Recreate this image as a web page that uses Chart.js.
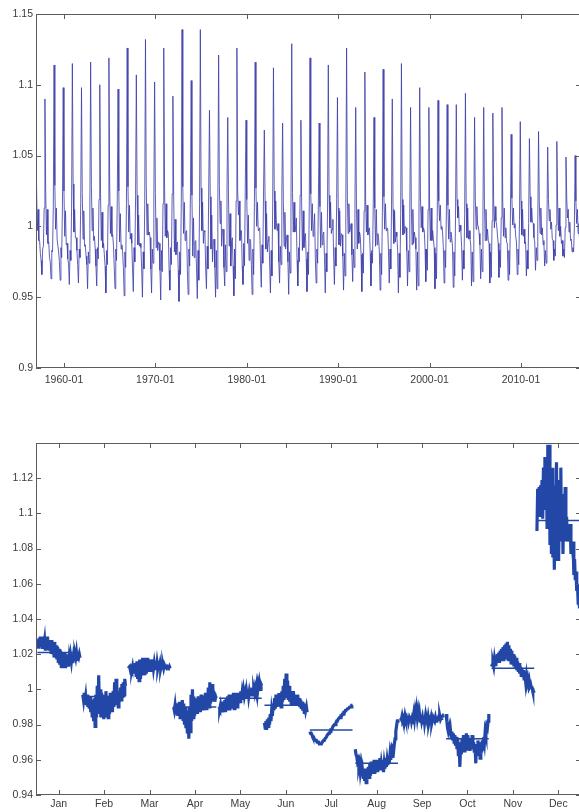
<!DOCTYPE html>
<html lang="en">
<head>
  <meta charset="UTF-8" />
  <title>Seasonal factors</title>
  <script src="https://cdn.jsdelivr.net/npm/chart.js"></script>
  <style>
    body {
      margin: 0;
      background: #ffffff;
      overflow: hidden;
      width: 579px;
      height: 812px;
      position: relative;
    }

    canvas {
      position: absolute;
      left: 0;
    }

    #topChart { top: 0; }
    #monthChart { top: 400px; }
  </style>
</head>
<body>
  <canvas id="topChart" width="590" height="400"></canvas>
  <canvas id="monthChart" width="590" height="412"></canvas>

  <script>
    // years covered by the series
    const years = [
      1957, 1958, 1959, 1960, 1961, 1962, 1963, 1964, 1965, 1966,
      1967, 1968, 1969, 1970, 1971, 1972, 1973, 1974, 1975, 1976,
      1977, 1978, 1979, 1980, 1981, 1982, 1983, 1984, 1985, 1986,
      1987, 1988, 1989, 1990, 1991, 1992, 1993, 1994, 1995, 1996,
      1997, 1998, 1999, 2000, 2001, 2002, 2003, 2004, 2005, 2006,
      2007, 2008, 2009, 2010, 2011, 2012, 2013, 2014, 2015, 2016
    ];

    const monthNames = ["Jan", "Feb", "Mar", "Apr", "May", "Jun",
                        "Jul", "Aug", "Sep", "Oct", "Nov", "Dec"];

    // december 1956, just at the left edge of the top panel
    const dec1956 = 1.098;

    // seasonal factor of each month, one value per year
    const janVals = [
      1.028, 1.024, 1.029, 1.025, 1.030, 1.024, 1.029, 1.023, 1.030, 1.025,
      1.028, 1.022, 1.029, 1.024, 1.030, 1.023, 1.028, 1.022, 1.027, 1.021,
      1.028, 1.020, 1.026, 1.019, 1.027, 1.018, 1.025, 1.017, 1.024, 1.015,
      1.023, 1.014, 1.022, 1.013, 1.021, 1.012, 1.020, 1.013, 1.021, 1.012,
      1.019, 1.014, 1.020, 1.013, 1.018, 1.015, 1.019, 1.016, 1.020, 1.015,
      1.019, 1.017, 1.020, 1.018, 1.021, 1.017, 1.019, 1.018, 1.020, 1.018
    ];
    const febVals = [
      0.997, 0.994, 0.998, 0.993, 0.996, 0.991, 0.997, 0.990, 0.995, 0.989,
      0.996, 0.987, 0.994, 0.985, 0.993, 0.982, 0.995, 0.979, 0.997, 0.984,
      1.002, 0.986, 1.008, 0.988, 1.000, 0.984, 0.998, 0.986, 0.996, 0.983,
      0.997, 0.985, 0.999, 0.987, 0.995, 0.984, 0.996, 0.986, 0.998, 0.988,
      0.994, 0.987, 0.999, 0.990, 1.004, 0.991, 1.006, 0.992, 0.998, 0.990,
      0.999, 0.993, 1.001, 0.994, 1.003, 0.995, 1.004, 0.997, 1.006, 1.002
    ];
    const marVals = [
      1.012, 1.012, 1.013, 1.011, 1.012, 1.011, 1.013, 1.010, 1.014, 1.009,
      1.015, 1.008, 1.016, 1.006, 1.016, 1.005, 1.017, 1.006, 1.017, 1.008,
      1.018, 1.009, 1.018, 1.008, 1.017, 1.009, 1.018, 1.010, 1.017, 1.011,
      1.016, 1.010, 1.017, 1.011, 1.016, 1.012, 1.015, 1.012, 1.016, 1.011,
      1.015, 1.012, 1.014, 1.013, 1.015, 1.012, 1.014, 1.013, 1.014, 1.012,
      1.014, 1.013, 1.013, 1.012, 1.013, 1.013, 1.012, 1.013, 1.012, 1.012
    ];
    const aprVals = [
      0.990, 0.988, 0.991, 0.987, 0.992, 0.986, 0.990, 0.985, 0.993, 0.984,
      0.991, 0.986, 0.994, 0.983, 0.992, 0.980, 0.990, 0.978, 0.988, 0.975,
      0.986, 0.972, 0.990, 0.976, 0.997, 0.982, 1.000, 0.984, 0.996, 0.985,
      0.993, 0.987, 0.995, 0.986, 0.996, 0.988, 0.994, 0.987, 0.997, 0.989,
      0.995, 0.988, 0.996, 0.990, 0.998, 0.989, 0.996, 0.991, 1.001, 0.990,
      1.004, 0.992, 0.999, 0.993, 1.003, 0.994, 0.998, 0.993, 0.996, 0.995
    ];
    const mayVals = [
      0.990, 0.989, 0.991, 0.988, 0.992, 0.987, 0.993, 0.988, 0.994, 0.987,
      0.995, 0.988, 0.996, 0.989, 0.997, 0.988, 0.996, 0.989, 0.997, 0.990,
      0.998, 0.989, 0.997, 0.991, 0.998, 0.990, 0.997, 0.992, 0.998, 0.993,
      0.999, 0.994, 0.998, 0.995, 0.999, 0.996, 0.998, 0.995, 0.999, 0.996,
      1.000, 0.996, 0.999, 0.997, 1.000, 0.996, 1.001, 0.997, 1.000, 0.998,
      1.001, 0.999, 1.002, 0.998, 1.002, 0.999, 1.003, 1.000, 1.003, 1.002
    ];
    const junVals = [
      0.981, 0.978, 0.982, 0.977, 0.983, 0.979, 0.984, 0.980, 0.986, 0.982,
      0.988, 0.985, 0.992, 0.988, 0.995, 0.989, 0.997, 0.990, 0.996, 0.991,
      0.998, 0.992, 0.997, 0.990, 0.999, 0.993, 1.002, 0.994, 1.006, 0.995,
      1.009, 0.996, 1.005, 0.994, 1.002, 0.993, 0.999, 0.992, 0.998, 0.993,
      0.999, 0.992, 0.997, 0.991, 0.996, 0.992, 0.997, 0.991, 0.995, 0.990,
      0.994, 0.989, 0.993, 0.988, 0.992, 0.987, 0.991, 0.988, 0.990, 0.987
    ];
    const julVals = [
      0.976, 0.975, 0.975, 0.974, 0.973, 0.973, 0.972, 0.972, 0.971, 0.971,
      0.970, 0.970, 0.970, 0.969, 0.969, 0.969, 0.969, 0.970, 0.970, 0.971,
      0.971, 0.972, 0.972, 0.973, 0.974, 0.974, 0.975, 0.975, 0.976, 0.977,
      0.977, 0.978, 0.979, 0.979, 0.980, 0.980, 0.981, 0.982, 0.982, 0.983,
      0.983, 0.984, 0.984, 0.985, 0.985, 0.986, 0.986, 0.987, 0.987, 0.988,
      0.988, 0.988, 0.989, 0.989, 0.989, 0.990, 0.990, 0.990, 0.991, 0.991
    ];
    const augVals = [
      0.966, 0.963, 0.962, 0.959, 0.960, 0.956, 0.958, 0.953, 0.956, 0.951,
      0.954, 0.950, 0.953, 0.948, 0.955, 0.947, 0.952, 0.949, 0.956, 0.950,
      0.958, 0.951, 0.959, 0.952, 0.957, 0.953, 0.960, 0.952, 0.958, 0.954,
      0.960, 0.953, 0.959, 0.955, 0.961, 0.954, 0.958, 0.955, 0.960, 0.953,
      0.958, 0.955, 0.961, 0.956, 0.960, 0.957, 0.962, 0.958, 0.963, 0.960,
      0.964, 0.962, 0.966, 0.965, 0.969, 0.972, 0.976, 0.979, 0.982, 0.983
    ];
    const sepVals = [
      0.984, 0.983, 0.985, 0.983, 0.984, 0.982, 0.985, 0.983, 0.984, 0.982,
      0.985, 0.982, 0.984, 0.983, 0.985, 0.982, 0.984, 0.983, 0.986, 0.983,
      0.987, 0.984, 0.988, 0.984, 0.987, 0.983, 0.986, 0.982, 0.985, 0.982,
      0.984, 0.981, 0.985, 0.981, 0.984, 0.981, 0.983, 0.981, 0.984, 0.981,
      0.983, 0.982, 0.984, 0.981, 0.983, 0.982, 0.983, 0.982, 0.984, 0.982,
      0.983, 0.983, 0.984, 0.983, 0.985, 0.983, 0.984, 0.984, 0.985, 0.984
    ];
    const octVals = [
      0.986, 0.982, 0.978, 0.976, 0.978, 0.974, 0.977, 0.973, 0.976, 0.971,
      0.975, 0.970, 0.974, 0.968, 0.973, 0.966, 0.972, 0.962, 0.970, 0.956,
      0.968, 0.963, 0.972, 0.966, 0.974, 0.965, 0.973, 0.967, 0.975, 0.966,
      0.974, 0.968, 0.972, 0.965, 0.971, 0.967, 0.974, 0.966, 0.970, 0.964,
      0.968, 0.958, 0.969, 0.963, 0.971, 0.965, 0.970, 0.961, 0.968, 0.964,
      0.971, 0.966, 0.973, 0.970, 0.976, 0.974, 0.979, 0.978, 0.982, 0.986
    ];
    const novVals = [
      1.013, 1.014, 1.015, 1.013, 1.017, 1.014, 1.019, 1.015, 1.020, 1.016,
      1.021, 1.015, 1.022, 1.016, 1.023, 1.017, 1.024, 1.016, 1.025, 1.017,
      1.026, 1.018, 1.027, 1.017, 1.025, 1.016, 1.023, 1.015, 1.022, 1.014,
      1.020, 1.013, 1.019, 1.012, 1.018, 1.011, 1.016, 1.010, 1.015, 1.009,
      1.013, 1.008, 1.012, 1.007, 1.011, 1.006, 1.009, 1.005, 1.008, 1.004,
      1.006, 1.003, 1.005, 1.002, 1.003, 1.001, 1.001, 0.999, 0.999, 0.998
    ];
    const decVals = [
      1.090, 1.114, 1.098, 1.115, 1.098, 1.116, 1.100, 1.119, 1.097, 1.126,
      1.107, 1.132, 1.102, 1.126, 1.092, 1.139, 1.103, 1.139, 1.082, 1.121,
      1.077, 1.126, 1.075, 1.116, 1.068, 1.112, 1.073, 1.129, 1.075, 1.119,
      1.073, 1.114, 1.091, 1.126, 1.084, 1.109, 1.077, 1.111, 1.090, 1.115,
      1.084, 1.098, 1.084, 1.089, 1.086, 1.086, 1.094, 1.077, 1.084, 1.080,
      1.084, 1.065, 1.074, 1.062, 1.067, 1.056, 1.060, 1.049, 1.050, 1.046
    ];

    // mean line drawn through each month group
    const monthMeans = [1.021, 0.996, 1.013, 0.990, 0.995, 0.991,
                        0.977, 0.958, 0.983, 0.972, 1.012, 1.096];

    // tick values
    const topXTicks = [1960, 1970, 1980, 1990, 2000, 2010];
    const topYTicks = [0.9, 0.95, 1, 1.05, 1.1, 1.15];
    const monthYTicks = [0.94, 0.96, 0.98, 1, 1.02, 1.04, 1.06, 1.08, 1.1, 1.12];
    const monthXTicks = [1, 2, 3, 4, 5, 6, 7, 8, 9, 10, 11, 12];

    const monthly = [janVals, febVals, marVals, aprVals, mayVals, junVals,
                     julVals, augVals, sepVals, octVals, novVals, decVals];

    const lineBlue = "rgba(62, 62, 170, 0.82)";
    const groupBlue = "#2247a6";
    const frameColor = "#5c5c5c";
    const labelFont = { family: "'Liberation Sans', Arial, sans-serif", size: 10.5 };

    // box frame with inward tick marks, matlab style
    const boxTicks = {
      id: "boxTicks",
      afterDatasetsDraw(chart) {
        const { ctx, chartArea: a, scales } = chart;
        const x = scales.x, y = scales.y;
        ctx.save();
        ctx.strokeStyle = frameColor;
        ctx.lineWidth = 1;
        ctx.strokeRect(a.left + 0.5, a.top + 0.5, a.right - a.left - 1, a.bottom - a.top - 1);
        ctx.beginPath();
        x.ticks.forEach(t => {
          const px = Math.round(x.getPixelForValue(t.value)) + 0.5;
          ctx.moveTo(px, a.bottom); ctx.lineTo(px, a.bottom - 5);
          ctx.moveTo(px, a.top); ctx.lineTo(px, a.top + 5);
        });
        y.ticks.forEach(t => {
          const py = Math.round(y.getPixelForValue(t.value)) + 0.5;
          ctx.moveTo(a.left, py); ctx.lineTo(a.left + 5, py);
          ctx.moveTo(a.right, py); ctx.lineTo(a.right - 5, py);
        });
        ctx.stroke();
        ctx.restore();
      }
    };

    function axisX(min, max, tickVals, fmt, pad, height) {
      return {
        type: "linear",
        min: min,
        max: max,
        afterBuildTicks: s => { s.ticks = tickVals.map(v => ({ value: v })); },
        afterFit: s => { s.height = height; },
        grid: { display: false, drawTicks: false },
        border: { display: false },
        ticks: {
          callback: fmt,
          autoSkip: false,
          maxRotation: 0,
          padding: pad,
          color: "#3a3a3a",
          font: labelFont
        }
      };
    }

    function axisY(min, max, tickVals) {
      return {
        type: "linear",
        min: min,
        max: max,
        afterBuildTicks: s => { s.ticks = tickVals.map(v => ({ value: v })); },
        afterFit: s => { s.width = 36; },
        grid: { display: false, drawTicks: false },
        border: { display: false },
        ticks: {
          callback: v => String(v),
          autoSkip: false,
          padding: 3,
          color: "#3a3a3a",
          font: labelFont
        }
      };
    }

    // top panel: the whole series month by month
    const seriesPoints = [{ x: 1956 + 11 / 12, y: dec1956 }];
    years.forEach((yr, i) => {
      monthly.forEach((vals, m) => {
        seriesPoints.push({ x: yr + m / 12, y: vals[i] });
      });
    });

    new Chart(document.getElementById("topChart").getContext("2d"), {
      type: "line",
      data: {
        datasets: [{
          data: seriesPoints,
          borderColor: lineBlue,
          borderWidth: 1,
          pointRadius: 0,
          tension: 0
        }]
      },
      options: {
        responsive: false,
        animation: false,
        layout: { padding: { top: 14, right: 9, left: 0, bottom: 0 } },
        plugins: { legend: { display: false }, tooltip: { enabled: false } },
        scales: {
          x: axisX(1956.94, 2016.56, topXTicks, v => v + "-01", 6, 32),
          y: axisY(0.9, 1.15, topYTicks)
        }
      },
      plugins: [boxTicks]
    });

    // bottom panel: each month's factors across the years, with the mean
    const groupSets = [];
    monthly.forEach((vals, m) => {
      const c = m + 1;
      groupSets.push({
        data: vals.map((v, i) => ({ x: c - 0.47 + 0.94 * i / (vals.length - 1), y: v })),
        borderColor: groupBlue,
        borderWidth: 3.2,
        pointRadius: 0,
        tension: 0
      });
      groupSets.push({
        data: [{ x: c - 0.47, y: monthMeans[m] }, { x: c + 0.47, y: monthMeans[m] }],
        borderColor: groupBlue,
        borderWidth: 1.5,
        pointRadius: 0
      });
    });

    new Chart(document.getElementById("monthChart").getContext("2d"), {
      type: "line",
      data: { datasets: groupSets },
      options: {
        responsive: false,
        animation: false,
        layout: { padding: { top: 43, right: 9, left: 0, bottom: 0 } },
        plugins: { legend: { display: false }, tooltip: { enabled: false } },
        scales: {
          x: axisX(0.5, 12.5, monthXTicks, v => monthNames[v - 1], 3, 17),
          y: axisY(0.94, 1.14, monthYTicks)
        }
      },
      plugins: [boxTicks]
    });
  </script>
</body>
</html>
